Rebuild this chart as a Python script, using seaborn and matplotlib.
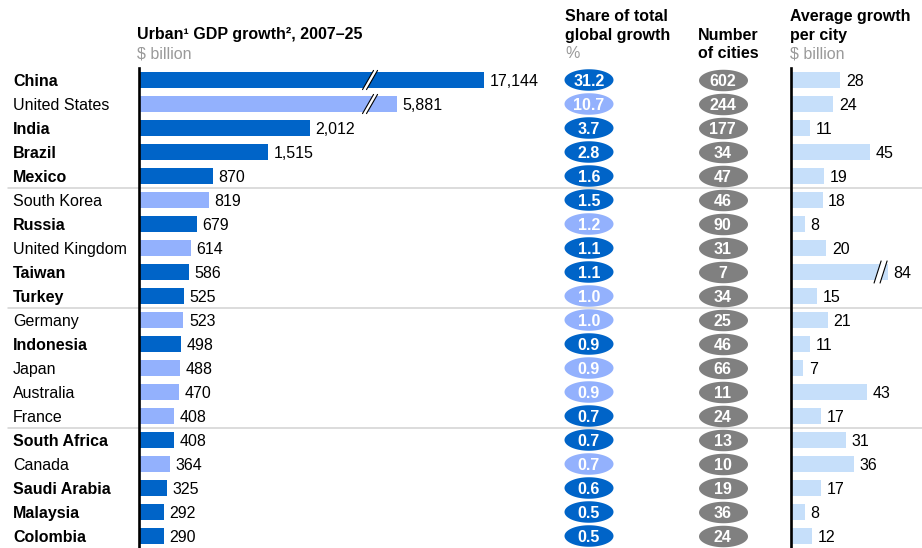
import numpy as np
import pandas as pd
import matplotlib
matplotlib.use("Agg")
import matplotlib.pyplot as plt
import matplotlib.transforms as mtransforms
from matplotlib.path import Path
from matplotlib.lines import Line2D
from matplotlib.patches import Polygon
import seaborn as sns

# ---------------- data ----------------
countries = ["China", "United States", "India", "Brazil", "Mexico",
             "South Korea", "Russia", "United Kingdom", "Taiwan", "Turkey",
             "Germany", "Indonesia", "Japan", "Australia", "France",
             "South Africa", "Canada", "Saudi Arabia", "Malaysia", "Colombia"]
emerging = [True, False, True, True, True,
            False, True, False, True, True,
            False, True, False, False, False,
            True, False, True, True, True]
gdp_growth = [17144, 5881, 2012, 1515, 870, 819, 679, 614, 586, 525,
              523, 498, 488, 470, 408, 408, 364, 325, 292, 290]
share_pct = [31.2, 10.7, 3.7, 2.8, 1.6, 1.5, 1.2, 1.1, 1.1, 1.0,
             1.0, 0.9, 0.9, 0.9, 0.7, 0.7, 0.7, 0.6, 0.5, 0.5]
share_dark = [True, False, True, True, True, True, False, True, True, False,
              False, True, False, False, True, True, False, True, True, True]
num_cities = [602, 244, 177, 34, 47, 46, 90, 31, 7, 34,
              25, 46, 66, 11, 24, 13, 10, 19, 36, 24]
avg_growth = [28, 24, 11, 45, 19, 18, 8, 20, 84, 15,
              21, 11, 7, 43, 17, 31, 36, 17, 8, 12]
group_breaks = [5, 10, 15]

# ---------------- style ----------------
DARK = "#0064C8"
LIGHT = "#93B1FD"
PALE = "#C6DFFA"
GRAY_ELL = "#808080"
GRAY_TXT = "#9A9A9A"
FS = 11.5

sns.set_theme(style="white")
plt.rcParams["font.family"] = ["Liberation Sans", "DejaVu Sans"]

W, H = 922, 548
fig = plt.figure(figsize=(W / 100, H / 100), dpi=100)
fig.patch.set_facecolor("white")

TOP, BOT = 68, 548
n = len(countries)


def add_ax(x0, x1):
    ax = fig.add_axes([x0 / W, 1 - BOT / H, (x1 - x0) / W, (BOT - TOP) / H])
    ax.patch.set_visible(False)
    return ax


def clean(ax, left_spine=False):
    ax.set_xticks([])
    ax.set_yticks([])
    ax.set_xlabel("")
    ax.set_ylabel("")
    for s in ax.spines.values():
        s.set_visible(False)
    if left_spine:
        ax.spines["left"].set_visible(True)
        ax.spines["left"].set_color("black")
        ax.spines["left"].set_linewidth(1.9)
    ax.set_ylim(n - 0.5, -0.5)


# compressed scale beyond the axis break for the two largest bars
BREAK_START = 2750
BREAK_K = 0.0909


def main_display(v):
    return v if v <= BREAK_START else BREAK_START + (v - BREAK_START) * BREAK_K


RIGHT_CAP = 55


def right_display(v):
    return min(v, RIGHT_CAP)


def draw_break(ax, xc, y, half_dx, gap, half_h):
    pts = []
    for off in (-gap / 2, gap / 2):
        x_lo = xc + off - half_dx
        x_hi = xc + off + half_dx
        pts.append(((x_lo, y + half_h), (x_hi, y - half_h)))
    poly = Polygon([pts[0][0], pts[0][1], pts[1][1], pts[1][0]],
                   closed=True, facecolor="white", edgecolor="none",
                   zorder=5, clip_on=False)
    ax.add_patch(poly)
    for (a, b) in pts:
        ax.plot([a[0], b[0]], [a[1], b[1]], color="black", lw=0.8,
                zorder=6, clip_on=False)


# ---------------- main bars ----------------
df = pd.DataFrame({
    "country": countries,
    "value": gdp_growth,
    "display": [main_display(v) for v in gdp_growth],
    "group": ["emerging" if e else "developed" for e in emerging],
    "share": share_pct,
    "share_grp": ["dark" if d else "light" for d in share_dark],
    "cities": num_cities,
    "avg": avg_growth,
    "avg_display": [right_display(v) for v in avg_growth],
    "row": list(range(n)),
})

PX_PER_UNIT = 0.085
ax_main = add_ax(139, 560)
sns.barplot(data=df, x="display", y="country", hue="group",
            palette={"emerging": DARK, "developed": LIGHT},
            dodge=False, width=0.68, saturation=1, linewidth=0,
            legend=False, ax=ax_main)
ax_main.set_xlim(0, (560 - 139) / PX_PER_UNIT)
clean(ax_main, left_spine=True)

for i, (v, d) in enumerate(zip(df["value"], df["display"])):
    ax_main.annotate(f"{v:,}", xy=(d, i), xytext=(4, 0),
                     textcoords="offset points", va="center_baseline",
                     ha="left", fontsize=FS, color="black")
    if v > BREAK_START:
        draw_break(ax_main, 2718, i, 65, 47, 0.40)

lab_tr = mtransforms.blended_transform_factory(fig.transFigure, ax_main.transData)
for i, (c, e) in enumerate(zip(countries, emerging)):
    ax_main.text(13 / W, i, c, transform=lab_tr, va="center_baseline",
                 ha="left", fontsize=FS, fontweight="bold" if e else "normal",
                 color="black")

for b in group_breaks:
    fig.add_artist(Line2D([8 / W, 1.0], [b - 0.5, b - 0.5], transform=lab_tr,
                          color="#D2D2D2", lw=1.1, zorder=-1))

# ---------------- ellipses ----------------
t = np.linspace(0, 2 * np.pi, 120)
ell_path = Path(np.column_stack([np.cos(t), np.sin(t) * 21.5 / 49.0]), closed=True)
ELL_S = (49 * 0.72) ** 2

ax_share = add_ax(559, 619)
sns.scatterplot(data=df, x=np.zeros(n), y="row", hue="share_grp",
                palette={"dark": DARK, "light": LIGHT}, marker=ell_path,
                s=ELL_S, linewidth=0, legend=False, ax=ax_share)
ax_share.set_xlim(-1, 1)
clean(ax_share)
for i, v in enumerate(share_pct):
    ax_share.text(0, i, f"{v:.1f}", ha="center", va="center_baseline",
                  color="white", fontsize=11.5, fontweight="bold")

ax_city = add_ax(692, 753)
sns.scatterplot(data=df, x=np.zeros(n), y="row", color=GRAY_ELL,
                marker=ell_path, s=ELL_S, linewidth=0, legend=False,
                ax=ax_city)
ax_city.set_xlim(-1, 1)
clean(ax_city)
for i, v in enumerate(num_cities):
    ax_city.text(0, i, f"{v}", ha="center", va="center_baseline",
                 color="white", fontsize=11.5, fontweight="bold")

# ---------------- right bars ----------------
RPX = 1.76
ax_right = add_ax(791, 922)
sns.barplot(data=df, x="avg_display", y="country", color=PALE,
            width=0.68, saturation=1, linewidth=0, ax=ax_right)
ax_right.set_xlim(0, (922 - 791) / RPX)
clean(ax_right, left_spine=True)
for i, (v, d) in enumerate(zip(df["avg"], df["avg_display"])):
    ax_right.annotate(f"{v}", xy=(d, i), xytext=(4, 0),
                      textcoords="offset points", va="center_baseline",
                      ha="left", fontsize=FS, color="black")
    if v > RIGHT_CAP:
        draw_break(ax_right, 50.9, i, 2.0, 3.4, 0.46)

# ---------------- headers ----------------
def ftext(x, y, s, bold=True, color="black"):
    fig.text(x / W, 1 - y / H, s, ha="left", va="baseline", fontsize=FS,
             fontweight="bold" if bold else "normal", color=color)


ftext(137, 39.5, "Urban¹ GDP growth², 2007–25")
ftext(137, 58, "$ billion", bold=False, color=GRAY_TXT)
ftext(565, 21, "Share of total")
ftext(565, 40, "global growth")
ftext(565, 58, "%", bold=False, color=GRAY_TXT)
ftext(698, 40, "Number")
ftext(698, 58, "of cities")
ftext(790, 21, "Average growth")
ftext(790, 40, "per city")
ftext(790, 58, "$ billion", bold=False, color=GRAY_TXT)

fig.savefig("out.png", dpi=100, facecolor="white")
